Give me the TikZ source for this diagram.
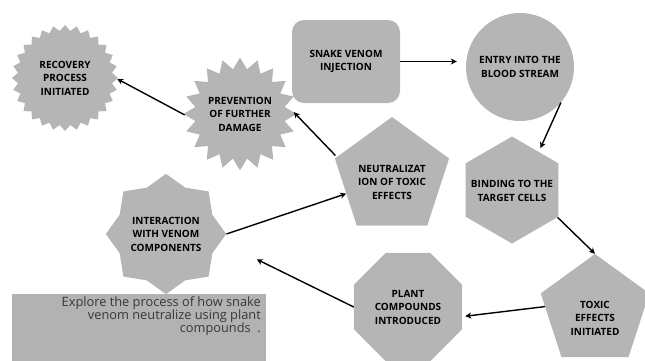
\documentclass[tikz,border=0pt]{standalone}
\usepackage{fontspec}
\setmainfont{Open Sans}
\usetikzlibrary{shapes.geometric,arrows.meta}
\definecolor{shapegray}{RGB}{181,181,181}
\definecolor{boxgray}{RGB}{178,178,178}
\definecolor{desctext}{RGB}{55,55,55}
\tikzset{
  shp/.style={fill=shapegray,draw=none,inner sep=0pt,align=center,
    font=\bfseries\fontsize{10}{13.5}\selectfont},
  lbl/.style={inner sep=0pt,align=center,font=\bfseries\fontsize{10}{13.5}\selectfont},
  arr/.style={-{Stealth[length=6pt,width=6pt]},line width=1.4pt,black}
}
\begin{document}
\begin{tikzpicture}[x=1pt,y=-1pt]
\useasboundingbox (0,0) rectangle (645,360);
% description box
\fill[boxgray] (12,294) rectangle (266,362);
\node[inner sep=0pt,anchor=north east,align=right,text=desctext,
  font=\fontsize{12.8}{13.3}\selectfont] (desc) at (261,296)
  {Explore the process of how snake\\venom neutralize using plant\\compounds\ \ .};
% shapes
\node[shp,star,star points=28,star point ratio=1.12,minimum size=106] (rec) at (65,78)
  {RECOVERY\\PROCESS\\INITIATED};
\node[shp,star,star points=20,star point ratio=1.25,minimum size=108] (prev) at (240,114)
  {PREVENTION\\OF FURTHER\\DAMAGE};
\node[shp,rectangle,rounded corners=12pt,minimum width=108,minimum height=83] (snake) at (346,61.5)
  {SNAKE VENOM\\INJECTION};
\node[shp,circle,minimum size=108] (entry) at (520,67)
  {ENTRY INTO THE\\BLOOD STREAM};
\node[shp,regular polygon,regular polygon sides=5,minimum size=120] (neut) at (392,177) {};
\node[lbl] (neutT) at (392,182) {NEUTRALIZAT\\ION OF TOXIC\\EFFECTS};
\node[shp,regular polygon,regular polygon sides=6,shape border rotate=30,minimum size=107] (bind) at (512,190) {};
\node[lbl] (bindT) at (512,191) {BINDING TO THE\\TARGET CELLS};
\node[shp,regular polygon,regular polygon sides=5,minimum size=114] (toxic) at (595,311) {};
\node[lbl] (toxicT) at (595,318) {TOXIC\\EFFECTS\\INITIATED};
\node[shp,regular polygon,regular polygon sides=8,minimum size=117] (plant) at (408,307)
  {PLANT\\COMPOUNDS\\INTRODUCED};
\node[shp,star,star points=8,star point ratio=1.2,minimum size=112] (inter) at (166,234)
  {INTERACTION\\WITH VENOM\\COMPONENTS};
% connectors
\draw[arr,shorten >=9pt] (snake.east) -- (entry.west |- snake.east);
\draw[arr,shorten >=4pt] (entry.-41) -- (bind.55);
\draw[arr] (bind.-31) -- (toxic.north);
\draw[arr,shorten >=3pt] (toxic.175) -- (plant.-10);
\draw[arr,shorten >=40pt] (plant.west) -- (inter.-8);
\draw[arr] (inter.east) -- (neut.200);
\draw[arr,shorten <=2pt] (neut.160) -- (prev.2);
\draw[arr] (prev.181) -- (rec.-1);
\end{tikzpicture}
\end{document}
